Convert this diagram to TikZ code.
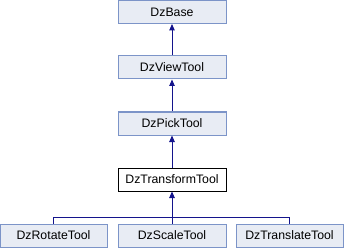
\documentclass[tikz,border=0pt]{standalone}
\usepackage{fontspec}
\setmainfont{Liberation Sans}
\usetikzlibrary{arrows.meta}
\definecolor{boxfill}{RGB}{232,236,244}
\definecolor{boxline}{RGB}{124,148,200}
\definecolor{edgeblue}{RGB}{20,20,140}
\begin{document}
\begin{tikzpicture}[x=1pt,y=-1pt,
  cls/.style={draw=boxline,fill=boxfill,line width=1pt,minimum height=23pt,inner sep=0pt,font=\fontsize{12.3}{13}\selectfont},
  cur/.style={draw=black,fill=white,line width=1pt,minimum height=23pt,inner sep=0pt,font=\fontsize{12.3}{13}\selectfont},
  inherit/.style={draw=edgeblue,line width=1pt,-{Triangle[length=6.5pt,width=5.5pt]}}]
\useasboundingbox (0,0) rectangle (344,248);
% class boxes, top to bottom
\node[cls,minimum width=108pt] (base) at (172,12) {DzBase};
\node[cls,minimum width=108pt] (view) at (172,67.5) {DzViewTool};
\node[cls,minimum width=108pt] (pick) at (172,123.5) {DzPickTool};
\node[cur,minimum width=108pt] (xform) at (172,179.5) {DzTransformTool};
\node[cls,minimum width=107pt] (rot) at (53.5,235.5) {DzRotateTool};
\node[cls,minimum width=108pt] (scale) at (172,235.5) {DzScaleTool};
\node[cls,minimum width=107pt] (trans) at (289.5,235.5) {DzTranslateTool};
% inheritance edges
\draw[inherit] (view.north) -- (base.south);
\draw[inherit] (pick.north) -- (view.south);
\draw[inherit] (xform.north) -- (pick.south);
\coordinate (bus) at (172,217.5);
\draw[inherit] (scale.north) -- (xform.south);
\draw[draw=edgeblue,line width=1pt] (rot.north) |- (bus) -| (trans.north);
\end{tikzpicture}
\end{document}
